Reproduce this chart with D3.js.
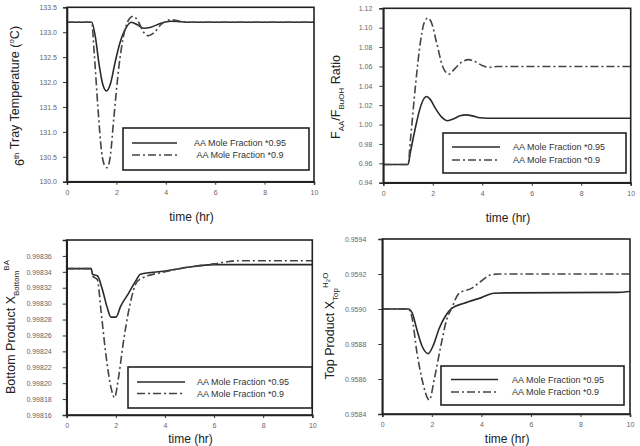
<!DOCTYPE html>
<html>
<head>
<meta charset="utf-8">
<script src="https://cdn.jsdelivr.net/npm/d3@7"></script>
<style>
  body { margin: 0; background: #fff; }
  svg { display: block; font-family: "Liberation Sans", Arial, sans-serif; }
</style>
</head>
<body>
<svg id="chart" width="640" height="446"></svg>
<script>
// series names (legend)
var seriesNames = ['AA Mole Fraction *0.95', 'AA Mole Fraction *0.9'];
var xTicks = [0, 2, 4, 6, 8, 10];

// panel 1 - 6th tray temperature
var tempTime95 = [0, 1.0, 1.15, 1.3, 1.45, 1.6, 1.75, 1.95, 2.15, 2.35, 2.6, 2.85, 3.1, 3.4, 3.8, 4.2, 4.6, 5, 10];
var tempVal95 = [133.2, 133.2, 132.9, 132.35, 131.95, 131.82, 131.95, 132.4, 132.8, 133.05, 133.2, 133.15, 133.08, 133.1, 133.18, 133.22, 133.21, 133.2, 133.2];
var tempTime90 = [0, 1.0, 1.1, 1.25, 1.4, 1.55, 1.62, 1.75, 1.9, 2.1, 2.3, 2.5, 2.68, 2.9, 3.1, 3.3, 3.5, 3.8, 4.2, 4.5, 4.9, 10];
var tempVal90 = [133.2, 133.2, 132.6, 131.5, 130.6, 130.3, 130.28, 130.5, 131.3, 132.3, 132.95, 133.25, 133.32, 133.2, 133.0, 132.93, 132.98, 133.15, 133.25, 133.23, 133.2, 133.2];
var tempTicks = [130.0, 130.5, 131.0, 131.5, 132.0, 132.5, 133.0, 133.5];

// panel 2 - F_AA / F_BuOH ratio
var ratioTime95 = [0, 1.0, 1.1, 1.3, 1.5, 1.65, 1.75, 1.9, 2.1, 2.35, 2.6, 2.85, 3.1, 3.35, 3.6, 3.9, 4.2, 10];
var ratioVal95 = [0.9588, 0.9588, 0.972, 0.997, 1.018, 1.027, 1.029, 1.026, 1.017, 1.008, 1.004, 1.006, 1.009, 1.010, 1.009, 1.007, 1.0065, 1.0065];
var ratioTime90 = [0, 1.0, 1.1, 1.3, 1.5, 1.65, 1.8, 1.95, 2.15, 2.4, 2.65, 2.9, 3.2, 3.45, 3.7, 4.0, 4.3, 4.6, 10];
var ratioVal90 = [0.9588, 0.9588, 0.985, 1.04, 1.085, 1.105, 1.110, 1.105, 1.085, 1.060, 1.052, 1.058, 1.065, 1.067, 1.065, 1.061, 1.059, 1.060, 1.060];
var ratioTicks = [0.94, 0.96, 0.98, 1.00, 1.02, 1.04, 1.06, 1.08, 1.10, 1.12];

// panel 3 - bottom product
var botTime95 = [0, 1.0, 1.05, 1.25, 1.45, 1.65, 1.8, 2.0, 2.2, 2.5, 2.8, 3.0, 4.0, 5.0, 6.0, 7.0, 10];
var botVal95 = [0.998344, 0.998344, 0.998337, 0.998335, 0.998318, 0.998295, 0.998283, 0.998283, 0.998297, 0.998312, 0.998328, 0.998337, 0.998341, 0.998346, 0.998349, 0.998349, 0.998349];
var botTime90 = [0, 1.0, 1.05, 1.25, 1.4, 1.6, 1.8, 1.95, 2.1, 2.3, 2.55, 2.8, 3.0, 4.0, 5.0, 6.0, 6.6, 7.0, 10];
var botVal90 = [0.998344, 0.998344, 0.998335, 0.998330, 0.998290, 0.998235, 0.998195, 0.998182, 0.998205, 0.998250, 0.998295, 0.998324, 0.998331, 0.998340, 0.998346, 0.998350, 0.998353, 0.998354, 0.998354];
var botTicks = [0.99816, 0.99818, 0.99820, 0.99822, 0.99824, 0.99826, 0.99828, 0.99830, 0.99832, 0.99834, 0.99836];

// panel 4 - top product
var topTime95 = [0, 1.05, 1.2, 1.4, 1.6, 1.85, 2.05, 2.3, 2.55, 2.8, 3.3, 4.0, 4.5, 5.0, 9.5, 10];
var topVal95 = [0.9590, 0.9590, 0.95898, 0.95888, 0.95879, 0.958745, 0.95879, 0.95889, 0.95896, 0.959003, 0.959033, 0.959065, 0.95909, 0.959092, 0.959095, 0.9591];
var topTime90 = [0, 1.05, 1.2, 1.4, 1.6, 1.9, 2.1, 2.35, 2.6, 2.8, 3.1, 3.6, 4.0, 4.35, 4.7, 10];
var topVal90 = [0.9590, 0.9590, 0.95895, 0.95875, 0.95860, 0.95848, 0.95860, 0.95878, 0.95894, 0.959005, 0.95909, 0.959118, 0.95916, 0.959194, 0.9592, 0.9592];
var topTicks = [0.9584, 0.9586, 0.9588, 0.9590, 0.9592, 0.9594];

function zip(t, v) {
    return t.map(function (d, i) { return {t: d, v: v[i]}; });
}

var svg = d3.select('#chart');

var panels = [
    {box: [67, 7.3, 314, 181.7], domain: [130, 133.5], ticks: tempTicks, fmt: '.1f', pad: 10,
     series: [zip(tempTime95, tempVal95), zip(tempTime90, tempVal90)],
     legend: [123, 128, 309, 170], leg: {x1: 132, x2: 177, tx: 240, anchor: 'middle', y1: 143, y2: 155},
     title: {x: 24, y: 96, parts: [['6'], ['th', 'sup'], [' Tray Temperature ('], ['o', 'sup'], ['C)', 'back']]}},
    {box: [383.3, 8.3, 630.7, 182.7], domain: [0.94, 1.12], ticks: ratioTicks, fmt: '.2f', pad: 11,
     series: [zip(ratioTime95, ratioVal95), zip(ratioTime90, ratioVal90)],
     legend: [443, 133, 626, 173], leg: {x1: 452, x2: 500, tx: 513, anchor: 'start', y1: 147, y2: 160},
     title: {x: 340, y: 97, parts: [['F'], ['AA', 'sub'], ['/F', 'back'], ['BuOH', 'sub'], [' Ratio', 'back']]}},
    {box: [66.7, 240, 312.3, 415], domain: [0.99816, 0.99838], ticks: botTicks, fmt: '.5f', pad: 15,
     series: [zip(botTime95, botVal95), zip(botTime90, botVal90)],
     legend: [128, 367, 312, 408], leg: {x1: 137, x2: 185, tx: 197, anchor: 'start', y1: 382, y2: 393.5},
     title: {x: 15, y: 327, parts: [['Bottom Product  X'], ['Bottom', 'sub'], ['BA', 'supAfterSub']]}},
    {box: [382.3, 239, 630, 414], domain: [0.9584, 0.9594], ticks: topTicks, fmt: '.4f', pad: 16,
     series: [zip(topTime95, topVal95), zip(topTime90, topVal90)],
     legend: [441, 366, 624, 405], leg: {x1: 451, x2: 498, tx: 512, anchor: 'start', y1: 379.5, y2: 392},
     title: {x: 334, y: 326, parts: [['Top Product  X'], ['Top', 'sub'], ['H', 'supAfterSub'], ['2', 'supsub'], ['O', 'supback']]}}
];

var dashes = [null, '8,3,2,3'];

panels.forEach(function (p) {
    var x0 = p.box[0], y0 = p.box[1], x1 = p.box[2], y1 = p.box[3];
    var xScale = d3.scaleLinear().domain([0, 10]).range([x0, x1]);
    var yScale = d3.scaleLinear().domain(p.domain).range([y1, y0]);

    var g = svg.append('g');

    // curves
    var line = d3.line()
        .x(function (d) { return xScale(d.t); })
        .y(function (d) { return yScale(d.v); })
        .curve(d3.curveMonotoneX);

    p.series.forEach(function (s, i) {
        g.append('path')
            .attr('d', line(s))
            .attr('fill', 'none')
            .attr('stroke', i == 0 ? '#2a2a2a' : '#444')
            .attr('stroke-width', 1.6)
            .attr('stroke-dasharray', dashes[i]);
    });

    // frame
    g.append('rect')
        .attr('x', x0).attr('y', y0)
        .attr('width', x1 - x0).attr('height', y1 - y0)
        .attr('fill', 'none').attr('stroke', '#222').attr('stroke-width', 1.6);

    // axes
    var xAxis = d3.axisBottom(xScale).tickValues(xTicks).tickSize(3).tickPadding(5).tickFormat(d3.format('d'));
    var yAxis = d3.axisLeft(yScale).tickValues(p.ticks).tickSize(4).tickPadding(p.pad - 4).tickFormat(d3.format(p.fmt));

    var gx = g.append('g').attr('transform', 'translate(0,' + y1 + ')').call(xAxis);
    var gy = g.append('g').attr('transform', 'translate(' + x0 + ',0)').call(yAxis);
    [gx, gy].forEach(function (a) {
        a.select('.domain').attr('stroke', '#222').attr('stroke-width', 1.6);
        a.selectAll('.tick line').attr('stroke', '#333');
        a.selectAll('.tick text').attr('fill', '#666').style('font-size', '7px')
            .style('font-family', '"Liberation Sans", Arial, sans-serif');
    });

    // x title (bottom row sits at the picture's lower edge)
    g.append('text')
        .attr('x', (x0 + x1) / 2 + 1)
        .attr('y', Math.min(y1 + 39, 443))
        .attr('text-anchor', 'middle')
        .attr('fill', '#222')
        .style('font-size', '12px')
        .text('time (hr)');

    // y title
    var t = g.append('text')
        .attr('transform', 'translate(' + p.title.x + ',' + p.title.y + ') rotate(-90)')
        .attr('text-anchor', 'middle')
        .attr('fill', '#222')
        .style('font-size', '12.5px');
    p.title.parts.forEach(function (part) {
        var ts = t.append('tspan').text(part[0]);
        var kind = part[1];
        if (kind == 'sup') ts.attr('dy', -5).style('font-size', '8px');
        else if (kind == 'sub') ts.attr('dy', 4).style('font-size', '8px');
        else if (kind == 'back') ts.attr('dy', part[0] == 'C)' ? 5 : -4);
        else if (kind == 'supAfterSub') ts.attr('dy', -10).style('font-size', '8px');
        else if (kind == 'supsub') ts.attr('dy', 2).style('font-size', '6px');
        else if (kind == 'supback') ts.attr('dy', -2).style('font-size', '8px');
    });

    // legend
    var lg = p.legend, L = p.leg;
    g.append('rect')
        .attr('x', lg[0]).attr('y', lg[1])
        .attr('width', lg[2] - lg[0]).attr('height', lg[3] - lg[1])
        .attr('fill', '#fff').attr('stroke', '#222').attr('stroke-width', 1.6);
    [L.y1, L.y2].forEach(function (yy, i) {
        g.append('line')
            .attr('x1', L.x1).attr('x2', L.x2).attr('y1', yy).attr('y2', yy)
            .attr('stroke', i == 0 ? '#2a2a2a' : '#444')
            .attr('stroke-width', 1.6)
            .attr('stroke-dasharray', dashes[i]);
        g.append('text')
            .attr('x', L.tx).attr('y', yy + 3)
            .attr('text-anchor', L.anchor)
            .attr('fill', '#333')
            .style('font-size', '9px')
            .text(seriesNames[i]);
    });
});
</script>
</body>
</html>
